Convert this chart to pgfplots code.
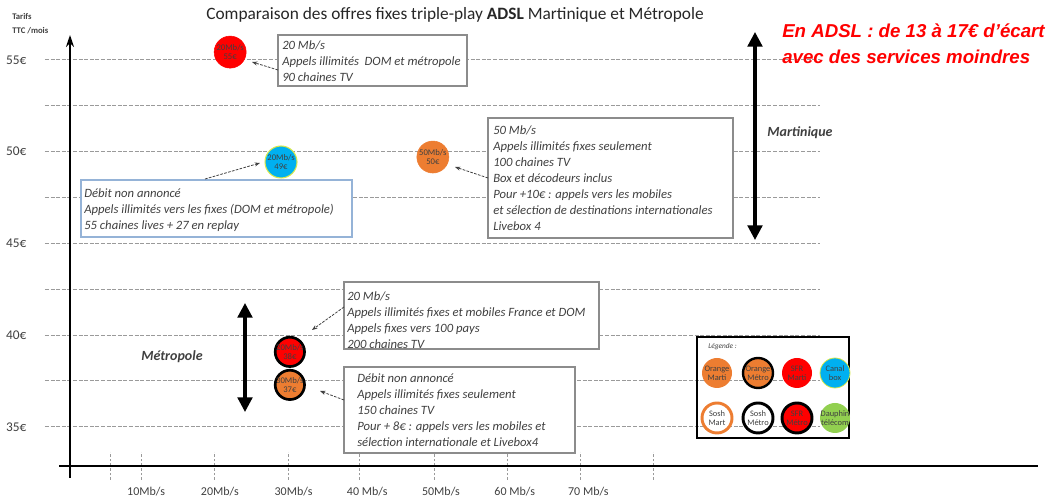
\documentclass[border=0pt]{standalone}
\usepackage{pgfplots}
\pgfplotsset{compat=1.18}
\usepackage{fontspec}
\setmainfont{Carlito}
\newfontfamily\redfont{Liberation Sans}
\usetikzlibrary{arrows.meta, calc}

\definecolor{mred}{HTML}{FF0000}
\definecolor{morange}{HTML}{ED7D31}
\definecolor{mcyan}{HTML}{00B0F0}
\definecolor{mgreen}{HTML}{92D050}
\definecolor{myellow}{HTML}{D9E84A}
\definecolor{txtgray}{HTML}{404040}
\definecolor{boxgray}{HTML}{8C8C8C}
\definecolor{boxblue}{HTML}{95B3D7}
\definecolor{gridgray}{HTML}{9A9A9A}

\tikzset{
  boxtext/.style={anchor=north west, align=left, inner sep=0pt,
    font=\itshape\fontsize{9.5}{12}\selectfont, text=txtgray},
  note/.style={txtgray, line width=0.6pt, dash pattern=on 2pt off 1pt,
    -{Stealth[length=4pt,width=3pt]}},
  bigarrow/.style={line width=2.4pt,
    {Triangle[length=11pt,width=11pt]}-{Triangle[length=11pt,width=11pt]}},
  legtext/.style={align=center, inner sep=0pt, text=txtgray,
    font=\fontsize{6.3}{7}\selectfont},
}

\begin{document}
\begin{tikzpicture}
\begin{axis}[
  scale only axis, width=581.25pt, height=349.5pt,
  xmin=-3.72, xmax=101.42, ymin=32.86, ymax=58.26,
  clip=false,
  axis line style={draw=none},
  tick pos=left,
  tick align=center,
  major tick length=21pt,
  xtick={5.1,9.3,19.3,29.3,39,49.1,59,68.9,78.8},
  xticklabels={},
  every x tick/.style={gridgray, dash pattern=on 2pt off 1.5pt, line width=0.6pt},
  extra x ticks={10,20,30,40,50,60,70},
  extra x tick labels={10Mb/s,20Mb/s,30Mb/s,40 Mb/s,50Mb/s,60 Mb/s,70 Mb/s},
  extra x tick style={major tick length=0pt, xticklabel style={yshift=-12pt}},
  ytick={35,37.5,...,55},
  yticklabels={35€,,40€,,45€,,50€,,55€},
  every y tick/.style={draw=none},
  ymajorgrids,
  grid style={gridgray, dash pattern=on 3pt off 1.2pt, line width=0.6pt},
  ticklabel style={font=\fontsize{9}{10}\selectfont, text=txtgray},
  yticklabel style={font=\fontsize{10}{11}\selectfont},
  every node near coord/.append style={anchor=center, align=center, inner sep=0pt,
    font=\fontsize{6.5}{7}\selectfont, text=txtgray},
  nodes near coords align={center},
]
\coordinate (O) at (rel axis cs:0,1);
% Martinique offers
\addplot[only marks, mark=*, mark size=12pt, mark options={fill=mred, draw=mred},
  nodes near coords={20Mb/s\\55€}] coordinates {(21.4,55.42)};
\addplot[only marks, mark=*, mark size=12pt, mark options={fill=mcyan, draw=myellow, line width=0.8pt},
  nodes near coords={20Mb/s\\49€}] coordinates {(28.3,49.43)};
\addplot[only marks, mark=*, mark size=12pt, mark options={fill=morange, draw=morange},
  nodes near coords={50Mb/s\\50€}] coordinates {(48.9,49.70)};
% Metropole offers
\addplot[only marks, mark=*, mark size=11pt, mark options={fill=mred, draw=black, line width=2pt},
  nodes near coords={20Mb/s\\38€}] coordinates {(29.5,39.08)};
\addplot[only marks, mark=*, mark size=11pt, mark options={fill=morange, draw=black, line width=2pt},
  nodes near coords={30Mb/s\\37€}] coordinates {(29.5,37.28)};
\end{axis}

\begin{scope}[shift={($(O)+(-33.75pt,0pt)$)}, x=0.75pt, y=-0.75pt]
\path (0,0) rectangle (1054,502);
% axes
\draw[line width=2.2pt] (59,466) -- (1038,466);
\draw[line width=2.2pt, -{Stealth[length=9pt,width=6pt]}] (70,478) -- (70,35);

% titles
\node[font=\fontsize{13}{14}\selectfont, text=black!85] at (455,15)
  {Comparaison des offres fixes triple-play \textbf{ADSL} Martinique et Métropole};
\node[anchor=west, inner sep=0pt, font=\fontsize{6.5}{7}\selectfont\bfseries, text=txtgray] at (12,17) {Tarifs};
\node[anchor=west, inner sep=0pt, font=\fontsize{6.5}{7}\selectfont\bfseries, text=txtgray] at (12,31) {TTC /mois};

\node[anchor=west, inner sep=0pt, text=mred, font=\redfont\bfseries\itshape\fontsize{14}{15}\selectfont]
  at (782,31) {En ADSL : de 13 à 17€ d’écart};
\node[anchor=west, inner sep=0pt, text=mred, font=\redfont\bfseries\itshape\fontsize{14}{15}\selectfont]
  at (782,57) {avec des services moindres};

% box 1
\draw[boxgray, line width=1.1pt, fill=white] (278,35) rectangle (467,86);
\node[boxtext] at (282,40) {20 Mb/s\\Appels illimités\ \ DOM et métropole\\90 chaines TV};
\draw[note] (278,70) -- (252,62);

% box 2
\draw[boxblue, line width=0.8pt, fill=white] (81,180) rectangle (352,237);
\node[boxtext] at (84,188) {Débit non annoncé\\Appels illimités vers les fixes (DOM et métropole)\\55 chaines lives + 27 en replay};
\draw[note] (205,179) -- (260,163);

% box 3
\draw[boxgray, line width=1.1pt, fill=white] (488,118) rectangle (733,238);
\node[boxtext] at (493,125) {50 Mb/s\\Appels illimités fixes seulement\\100 chaines TV\\Box et décodeurs inclus\\Pour +10€ : appels vers les mobiles\\et sélection de destinations internationales\\Livebox 4};
\draw[note] (488,178) -- (455,167);

% box 4
\draw[boxgray, line width=1.1pt, fill=white] (344,282) rectangle (599,349);
\node[boxtext] at (347,291) {20 Mb/s\\Appels illimités fixes et mobiles France et DOM\\Appels fixes vers 100 pays\\200 chaines TV};
\draw[note] (344,307) -- (312,330);

% box 5
\draw[boxgray, line width=1.1pt, fill=white] (344,367) rectangle (575,453);
\node[boxtext] at (357,373) {Débit non annoncé\\Appels illimités fixes seulement\\150 chaines TV\\Pour + 8€ : appels vers les mobiles et\\sélection internationale et Livebox4};
\draw[note] (344,400) -- (320,391);

% region arrows
\draw[bigarrow] (755,32) -- (755,240);
\node[font=\bfseries\itshape\fontsize{10.5}{11}\selectfont, text=txtgray] at (800,133) {Martinique};
\draw[bigarrow] (245,303) -- (245,412);
\node[font=\bfseries\itshape\fontsize{10.5}{11}\selectfont, text=txtgray] at (172,357) {Métropole};

% legend
\draw[line width=2.2pt] (697,337) rectangle (849,438);
\node[anchor=west, inner sep=0pt, font=\itshape\fontsize{5.5}{6}\selectfont, text=txtgray] at (708,347) {Légende :};
\fill[morange] (717,373) circle[radius=15];
\draw[fill=morange, draw=black, line width=1.8pt] (758,373) circle[radius=15];
\fill[mred] (797,373) circle[radius=15];
\draw[fill=mcyan, draw=myellow, line width=0.6pt] (835,373) circle[radius=15];
\draw[fill=white, draw=morange, line width=2.2pt] (717,418) circle[radius=15];
\draw[fill=white, draw=black, line width=2.2pt] (758,418) circle[radius=15];
\draw[fill=mred, draw=black, line width=2.2pt] (797,418) circle[radius=15];
\fill[mgreen] (835,418) circle[radius=15];
\node[legtext] at (717,373) {Orange\\Marti};
\node[legtext] at (758,373) {Orange\\Métro};
\node[legtext] at (797,373) {SFR\\Marti};
\node[legtext] at (835,373) {Canal\\box};
\node[legtext] at (717,418) {Sosh\\Mart};
\node[legtext] at (758,418) {Sosh\\Métro};
\node[legtext] at (797,418) {SFR\\Métro};
\node[legtext] at (835,418) {Dauphin\\télécom};
\end{scope}
\end{tikzpicture}
\end{document}
